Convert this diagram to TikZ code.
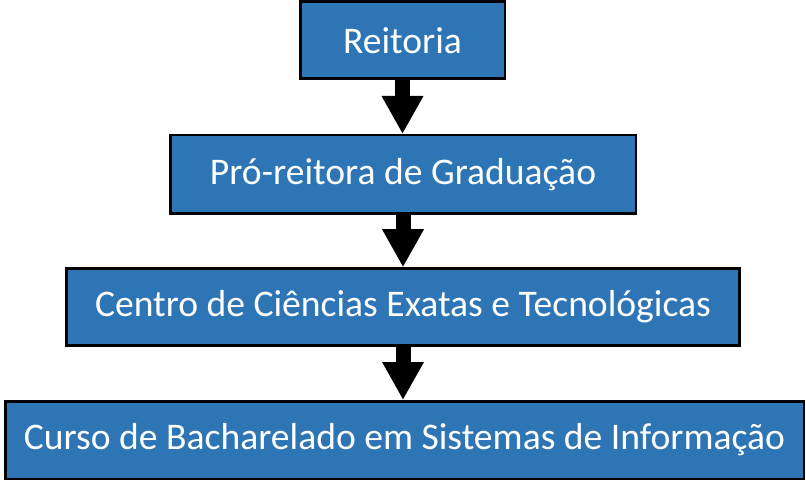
\documentclass[tikz,border=0pt]{standalone}
\usepackage{fontspec}
\setmainfont{Carlito}
\usetikzlibrary{arrows.meta}
\definecolor{boxblue}{HTML}{2E75B6}
\tikzset{
  orgbox/.style={draw=black, line width=2.5pt, fill=boxblue, text=white,
    font=\fontsize{37.6}{44}\selectfont, inner sep=0pt, align=center},
  blockarrow/.style={line width=15pt, black,
    -{Triangle[width=39pt,length=38pt]}}
}
\begin{document}
\begin{tikzpicture}[x=1pt,y=-1pt]
\useasboundingbox (0,0) rectangle (806,486);
\node[orgbox, minimum width=204.5pt, minimum height=77pt] (r) at (402.5,40.25) {Reitoria};
\node[orgbox, minimum width=465.5pt, minimum height=78.5pt] (p) at (403,174.5) {Pró-reitora de Graduação};
\node[orgbox, minimum width=673pt, minimum height=77pt] (c) at (403,307) {Centro de Ciências Exatas e Tecnológicas};
\node[orgbox, minimum width=798.5pt, minimum height=77.5pt] (b) at (404.5,440) {Curso de Bacharelado em Sistemas de Informação};
\draw[blockarrow] (r.south) -- (r.south |- p.north);
\draw[blockarrow] (p.south) -- (p.south |- c.north);
\draw[blockarrow] (c.south) -- (c.south |- b.north);
\end{tikzpicture}
\end{document}
